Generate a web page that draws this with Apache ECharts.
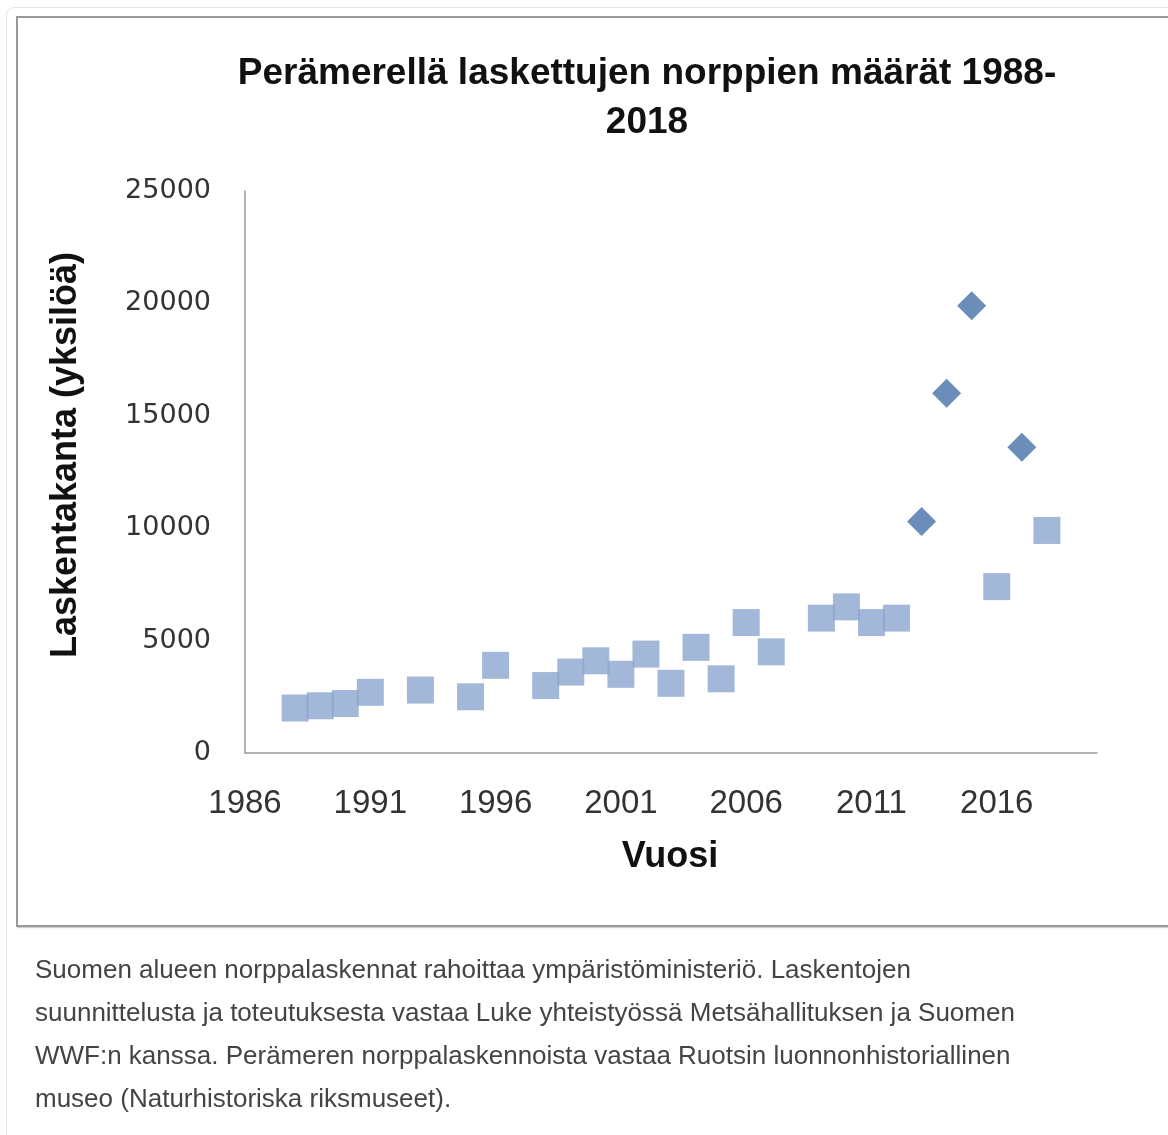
<!DOCTYPE html>
<html>
<head>
<meta charset="utf-8">
<script src="https://cdn.jsdelivr.net/npm/echarts@6/dist/echarts.min.js"></script>
<style>
  html, body { margin: 0; padding: 0; background: #fff; overflow: hidden; }
  .outer-box {
    position: absolute; left: 6px; top: 7px; width: 1200px; height: 1200px;
    border: 1px solid #e4e4e4; border-radius: 8px;
  }
  .chart-frame {
    position: absolute; left: 16px; top: 16px; width: 1200px; height: 907px;
    border: 2px solid #9a9a9a; box-shadow: 1px 1px 1px #d0d0d0;
  }
  #main { position: absolute; left: 0; top: 0; width: 1168px; height: 1135px; }
  .caption {
    position: absolute; left: 35px; top: 948px;
    font-family: 'Liberation Sans', Arial, sans-serif; font-size: 26px;
    line-height: 43px; color: #444; white-space: nowrap;
  }
</style>
</head>
<body>
<div class="outer-box"></div>
<div class="chart-frame"></div>
<div id="main"></div>
<div class="caption">
  Suomen alueen norppalaskennat rahoittaa ympäristöministeriö. Laskentojen<br>
  suunnittelusta ja toteutuksesta vastaa Luke yhteistyössä Metsähallituksen ja Suomen<br>
  WWF:n kanssa. Perämeren norppalaskennoista vastaa Ruotsin luonnonhistoriallinen<br>
  museo (Naturhistoriska riksmuseet).
</div>
<script>
// laskennat, neliöt (vaaleat)
var squareYears = [1988, 1989, 1990, 1991, 1993, 1995, 1996, 1998, 1999, 2000, 2001, 2002,
                   2003, 2004, 2005, 2006, 2007, 2009, 2010, 2011, 2012, 2016, 2018];
var squareCounts = [2000, 2100, 2200, 2700, 2800, 2500, 3900, 3000, 3600, 4100, 3500, 4400,
                    3100, 4700, 3300, 5800, 4500, 6000, 6500, 5800, 6000, 7400, 9900];
// vinoneliöt (tummat)
var diamondYears = [2013, 2014, 2015, 2017];
var diamondCounts = [10300, 16000, 19900, 13600];

var titleText = 'Perämerellä laskettujen norppien määrät 1988-\n2018';
var yName = 'Laskentakanta (yksilöä)';
var xName = 'Vuosi';

function pairs(xs, ys) {
  var out = [];
  for (var i = 0; i < xs.length; i++) out.push([xs[i], ys[i]]);
  return out;
}

var chart = echarts.init(document.getElementById('main'));
chart.setOption({
  animation: false,
  title: {
    text: titleText,
    left: 642,
    top: 44,
    textAlign: 'center',
    textStyle: {
      fontFamily: 'Liberation Sans', fontWeight: 'bold', fontSize: 37,
      lineHeight: 49, color: '#111'
    }
  },
  grid: { left: 245, right: 71, top: 191, bottom: 382 },
  xAxis: {
    type: 'value',
    min: 1986, max: 2020, interval: 5,
    splitLine: { show: false },
    axisTick: { show: false },
    axisLine: { lineStyle: { color: '#9a9a9a', width: 1.5 } },
    axisLabel: {
      showMaxLabel: false,
      margin: 34,
      formatter: function (v) { return String(v); },
      fontFamily: 'Liberation Sans', fontSize: 33, color: '#333'
    }
  },
  yAxis: {
    type: 'value',
    min: 0, max: 25000, interval: 5000,
    splitLine: { show: false },
    axisTick: { show: false },
    axisLine: { show: true, lineStyle: { color: '#9a9a9a', width: 1.5 } },
    axisLabel: {
      margin: 34,
      formatter: function (v) { return String(v); },
      fontFamily: 'DejaVu Sans', fontSize: 27, color: '#333'
    }
  },
  graphic: [
    {
      type: 'text', x: 66, y: 455, rotation: Math.PI / 2,
      style: {
        text: yName, align: 'center', verticalAlign: 'middle',
        font: 'bold 36px "Liberation Sans"', fill: '#111'
      }
    },
    {
      type: 'text', x: 670, y: 857,
      style: {
        text: xName, align: 'center', verticalAlign: 'middle',
        font: 'bold 36px "Liberation Sans"', fill: '#111'
      }
    }
  ],
  series: [
    {
      name: 'laskenta',
      type: 'scatter',
      symbol: 'rect',
      symbolSize: 27,
      itemStyle: { color: '#8ca5cf' },
      data: pairs(squareYears, squareCounts)
    },
    {
      name: 'laskenta 2',
      type: 'scatter',
      symbol: 'diamond',
      symbolSize: 29,
      itemStyle: { color: '#4571a8' },
      data: pairs(diamondYears, diamondCounts)
    }
  ]
});
</script>
</body>
</html>
